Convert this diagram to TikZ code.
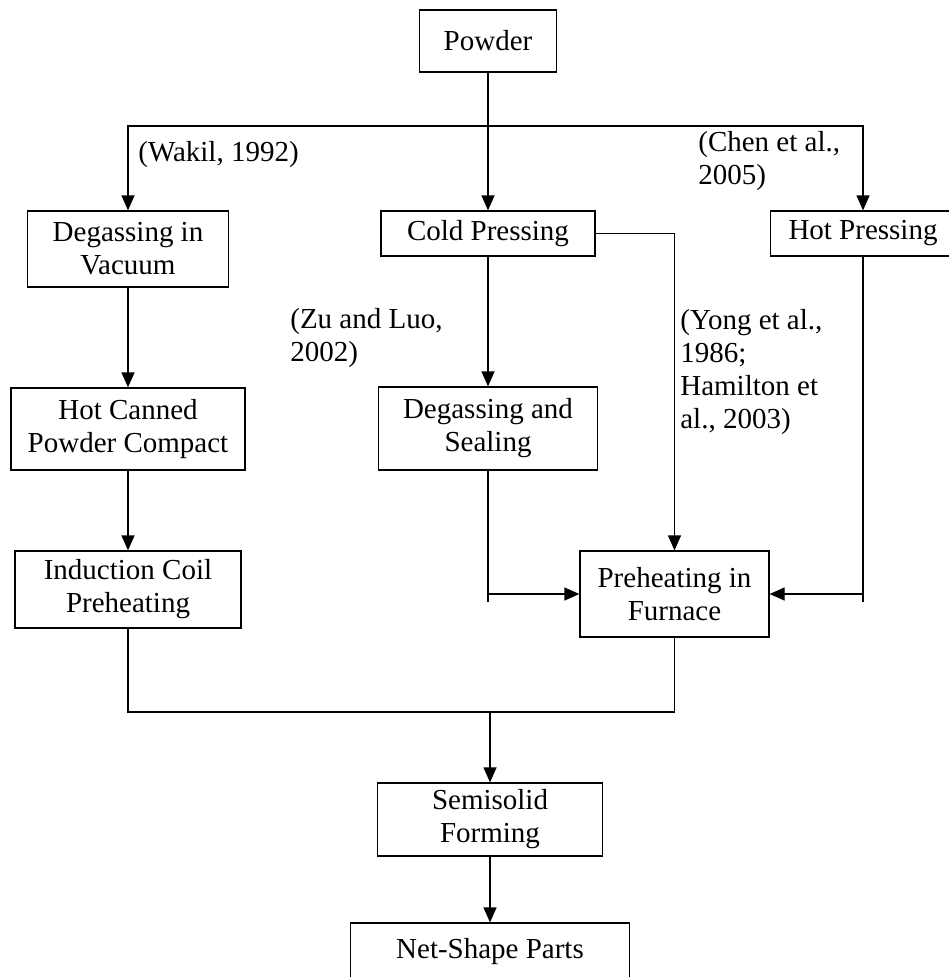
\documentclass[tikz,border=0pt]{standalone}
\usepackage{fontspec}
\setmainfont{Liberation Serif}
\usetikzlibrary{arrows.meta,positioning}

\begin{document}
\begin{tikzpicture}[
    x=0.2mm, y=-0.2mm,
    font=\fontsize{16.5}{18.8}\selectfont,
    box/.style={draw, line width=0.7pt, align=center, inner sep=0pt},
    cite/.style={align=left, inner sep=0pt, anchor=west},
    arrow/.style={-{Triangle[length=3mm, width=2.6mm]}, line width=0.7pt},
    link/.style={line width=0.7pt}
]
\useasboundingbox (0,0) rectangle (948,977);

% ---------- Top ----------
\node[box, minimum width=27.4mm, minimum height=12.4mm] (powder) at (488,41) {Powder};

% ---------- Second row ----------
\node[box, minimum width=40.2mm, minimum height=15.2mm] (degvac) at (128,249) {Degassing in\\Vacuum};
\node[box, minimum width=42.8mm, minimum height=9.0mm] (cold) at (488,233.5) {Cold Pressing};
\node[box, minimum width=37mm, minimum height=9.0mm] (hotp) at (863,233.5) {Hot Pressing};

% ---------- Middle ----------
\node[box, minimum width=46.8mm, minimum height=16.4mm] (hotcan) at (128,429) {Hot Canned\\Powder Compact};
\node[box, minimum width=43.8mm, minimum height=16.6mm] (degseal) at (488,428.5) {Degassing and\\Sealing};
\node[box, minimum width=45.2mm, minimum height=15.4mm] (induct) at (128,589.5) {Induction Coil\\Preheating};
\node[box, minimum width=37.8mm, minimum height=17.2mm] (preheat) at (674.5,594) {Preheating in\\Furnace};

% ---------- Bottom ----------
\node[box, minimum width=45mm, minimum height=14.6mm] (semi) at (490,819.5) {Semisolid\\Forming};
\node[box, minimum width=55.8mm, minimum height=11.6mm] (net) at (490,952) {Net-Shape Parts};

% ---------- References ----------
\node[cite] (wakil) at (138,155) {(Wakil, 1992)};
\node[cite] (chen) at (698,161) {(Chen et al.,\\2005)};
\node[cite] (zu) at (290,338) {(Zu and Luo,\\2002)};
\node[cite] (yong) at (680,372) {(Yong et al.,\\1986;\\Hamilton et\\al., 2003)};

% ---------- Edges ----------
\coordinate (split) at (488,126);
\draw[link] (powder) -- (split);
\draw[arrow] (split) -| (degvac.north);
\draw[arrow] (split) -- (cold);
\draw[arrow] (split) -| (hotp.north);

\draw[arrow] (degvac) -- (hotcan);
\draw[arrow] (hotcan) -- (induct);
\draw[arrow] (cold) -- (degseal);
\draw[arrow] (cold.east) -| (preheat.north);

% side feeds into furnace (stubs run a bit past the arrows)
\coordinate (sealend) at (488,602);
\coordinate (sealjoin) at (488,594);
\draw[link] (degseal.south) -- (sealend);
\draw[arrow] (sealjoin) -- (preheat.west);
\coordinate (hotend) at (863,602);
\coordinate (hotjoin) at (863,594);
\draw[link] (hotp.south) -- (hotend);
\draw[arrow] (hotjoin) -- (preheat.east);

% merge to forming
\coordinate (merge) at (490,712);
\draw[link] (induct.south) |- (merge) -| (preheat.south);
\draw[arrow] (merge) -- (semi);
\draw[arrow] (semi) -- (net);

\end{tikzpicture}
\end{document}
